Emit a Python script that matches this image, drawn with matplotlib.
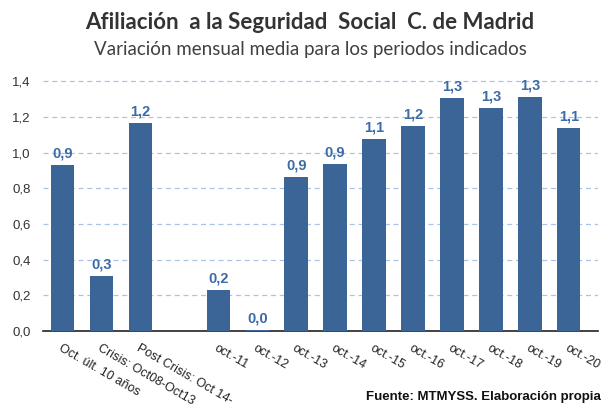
import numpy as np
import matplotlib
matplotlib.use("Agg")
import matplotlib.pyplot as plt
from matplotlib.ticker import FuncFormatter

categories = ["Oct. últ. 10 años", "Crisis: Oct08-Oct13", "Post Crisis: Oct 14-", "",
              "oct.-11", "oct.-12", "oct.-13", "oct.-14", "oct.-15", "oct.-16",
              "oct.-17", "oct.-18", "oct.-19", "oct.-20"]
values = [0.93, 0.306, 1.168, None, 0.232, 0.005, 0.862, 0.935, 1.077, 1.151,
          1.304, 1.247, 1.31, 1.14]
labels = ["0,9", "0,3", "1,2", "", "0,2", "0,0", "0,9", "0,9", "1,1", "1,2",
          "1,3", "1,3", "1,3", "1,1"]

bar_color = "#3b6597"
lab_color = "#3d6ba6"

fig = plt.figure(figsize=(6.07, 4.05), dpi=100)
ax = fig.add_axes([43 / 607, 74 / 405, 555 / 607, 257 / 405])

x = np.arange(len(categories))
h = [v if v is not None else 0 for v in values]
bars = ax.bar(x, h, width=0.6, color=bar_color, zorder=3)
for xi, v, lab in zip(x, values, labels):
    if v is None:
        continue
    ax.text(xi, v + 0.025, lab, ha="center", va="bottom", color=lab_color,
            fontsize=10.5, fontweight="bold", family="Liberation Sans")

ax.set_xlim(-0.5, len(categories) - 0.5 + 0.25)
ax.set_ylim(0, 1.44)
ax.set_yticks(np.arange(0, 1.41, 0.2))
ax.yaxis.set_major_formatter(FuncFormatter(lambda v, p: f"{v:.1f}".replace(".", ",")))
ax.grid(axis="y", color="#a9c4e4", linestyle=(0, (4, 3)), linewidth=0.9, zorder=0)
for s in ["top", "right", "left"]:
    ax.spines[s].set_visible(False)
ax.spines["bottom"].set_color("#222222")
ax.spines["bottom"].set_linewidth(1.2)
ax.tick_params(axis="y", length=0, labelsize=9.5, labelcolor="#333333", pad=9)
ax.tick_params(axis="x", length=0, pad=8)
ax.set_xticks(x)
ax.set_xticklabels(categories, rotation=-30, ha="left", va="top",
                   rotation_mode="anchor", fontsize=9, color="#222222",
                   family="Liberation Sans")
for t in ax.get_yticklabels():
    t.set_family("Liberation Sans")

fig.text(0.511, 0.945, "Afiliación  a la Seguridad  Social  C. de Madrid",
         ha="center", va="center", fontsize=16, fontweight="bold",
         color="#333333", family="Lato")
fig.text(0.511, 0.878, "Variación mensual media para los periodos indicados",
         ha="center", va="center", fontsize=13.5, color="#404040", family="Lato")
fig.text(0.99, 0.004, "Fuente: MTMYSS. Elaboración propia", ha="right", va="bottom",
         fontsize=9.5, fontweight="bold", color="#111111", family="Liberation Sans")

fig.savefig("out.png", dpi=100)
